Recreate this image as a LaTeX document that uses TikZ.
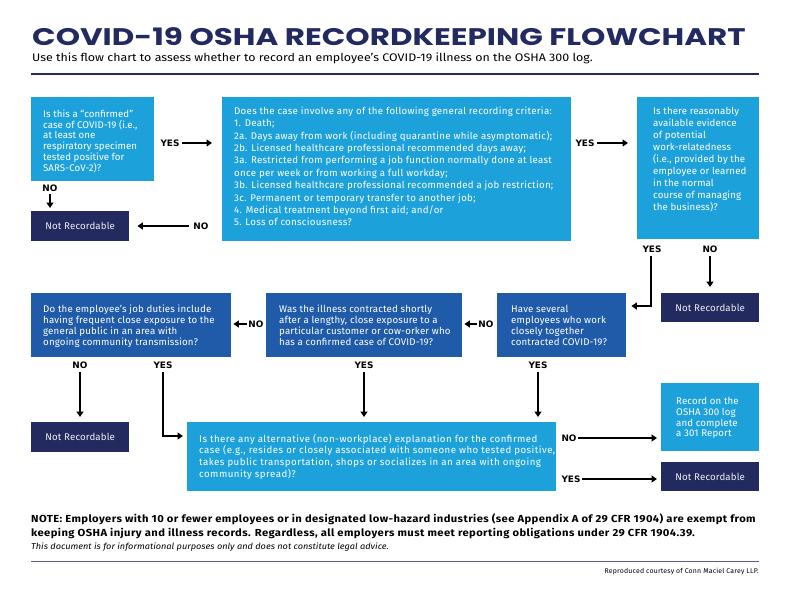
\documentclass[tikz,border=0pt]{standalone}
\usepackage{fontspec}
\setmainfont{Fira Sans}
\newfontfamily\titlefont[FakeStretch=1.29]{Poppins}
\newfontfamily\labfont{DejaVu Sans}
\usetikzlibrary{arrows.meta}
\definecolor{lblue}{RGB}{29,161,219}
\definecolor{mblue}{RGB}{31,91,168}
\definecolor{navy}{RGB}{35,42,96}
\definecolor{rulegray}{RGB}{90,94,140}
\newcommand\bfnt[3]{\fontsize{#1}{#2}\selectfont\addfontfeatures{LetterSpace=#3}}
\tikzset{
  boxbase/.style={inner sep=0pt, anchor=north west, draw=none},
  lbox/.style={boxbase, fill=lblue},
  mbox/.style={boxbase, fill=mblue},
  nrbox/.style={boxbase, fill=navy, text=white!92!navy, font={\bfnt{9.7}{11}{1.5}}},
  btxt/.style={anchor=north west, inner sep=0pt, align=left, text=white},
  lab/.style={inner sep=0pt, font=\labfont\bfseries\fontsize{8.9}{10}\selectfont},
  arr/.style={line width=1.4pt, -{Triangle[length=5.5pt,width=7pt]}},
  conn/.style={line width=1.4pt}
}
\begin{document}
\begin{tikzpicture}[x=1pt,y=-1pt]
\useasboundingbox (0,0) rectangle (792,590);
\fill[white] (0,0) rectangle (792,590);

% title
\node[anchor=west, inner sep=0pt, text=navy, font=\titlefont\bfseries\fontsize{24}{26}\selectfont] (title) at (32,36.5) {COVID-19 OSHA RECORDKEEPING FLOWCHART};
\node[anchor=west, inner sep=0pt, font={\fontsize{11}{12}\selectfont\addfontfeatures{FakeStretch=1.13}}] (sub) at (32,58.5) {Use this flow chart to assess whether to record an employee’s COVID-19 illness on the OSHA 300 log.};
\draw[navy, line width=2.2pt] (31,74) coordinate (r1a) -- (759,74) coordinate (r1b);

% row 1
\node[lbox, minimum width=123pt, minimum height=84pt] (q1) at (31,97) {};
\node[btxt, font={\bfnt{9.7}{10.8}{0.6}}] (q1t) at (43,109.5) {Is this a “confirmed”\\case of COVID-19 (i.e.,\\at least one\\respiratory specimen\\tested positive for\\SARS-CoV-2)?};

\node[lbox, minimum width=349pt, minimum height=144pt] (q2) at (222,97) {};
\node[btxt, font={\bfnt{9.7}{12.35}{3}}] (q2t) at (234,106.8) {Does the case involve any of the following general recording criteria:\\1. Death;\\2a. Days away from work (including quarantine while asymptomatic);\\2b. Licensed healthcare professional recommended days away;\\3a. Restricted from performing a job function normally done at least\\once per week or from working a full workday;\\3b. Licensed healthcare professional recommended a job restriction;\\3c. Permanent or temporary transfer to another job;\\4. Medical treatment beyond first aid; and/or\\5. Loss of consciousness?};

\node[lbox, minimum width=122pt, minimum height=142pt] (q3) at (637,97) {};
\node[btxt, font={\bfnt{9.7}{12}{1.2}}] (q3t) at (653,106.8) {Is there reasonably\\available evidence\\of potential\\work-relatedness\\(i.e., provided by the\\employee or learned\\in the normal\\course of managing\\the business)?};

\node[nrbox, minimum width=98pt, minimum height=30pt] (nr1) at (31,211) {Not Recordable};
\node[nrbox, minimum width=98pt, minimum height=29pt] (nr2) at (661,293) {Not Recordable};

% row 2
\node[mbox, minimum width=200pt, minimum height=64pt] (qa) at (31,293) {};
\node[btxt, font={\bfnt{9.7}{11}{1.7}}] (qat) at (43,304.8) {Do the employee’s job duties include\\having frequent close exposure to the\\general public in an area with\\ongoing community transmission?};

\node[mbox, minimum width=196pt, minimum height=64pt] (qb) at (266,293) {};
\node[btxt, font={\bfnt{9.7}{11}{1.7}}] (qbt) at (279,304.8) {Was the illness contracted shortly\\after a lengthy, close exposure to a\\particular customer or cow-orker who\\has a confirmed case of COVID-19?};

\node[mbox, minimum width=129pt, minimum height=64pt] (qc) at (497,293) {};
\node[btxt, font={\bfnt{9.7}{11}{1.7}}] (qct) at (511,304.8) {Have several\\employees who work\\closely together\\contracted COVID-19?};

% row 3
\node[nrbox, minimum width=98pt, minimum height=30pt] (nr3) at (31,422) {Not Recordable};
\node[lbox, minimum width=369pt, minimum height=69pt] (qd) at (187,422) {};
\node[btxt, font={\bfnt{9.7}{11.7}{4.8}}] (qdt) at (199,433.8) {Is there any alternative (non-workplace) explanation for the confirmed\\case (e.g., resides or closely associated with someone who tested positive,\\takes public transportation, shops or socializes in an area with ongoing\\community spread)?};

\node[lbox, minimum width=98pt, minimum height=68pt] (rec) at (661,383) {};
\node[btxt, font={\bfnt{9.7}{10.9}{1.2}}] (rect) at (676,396.8) {Record on the\\OSHA 300 log\\and complete\\a 301 Report};
\node[nrbox, minimum width=98pt, minimum height=29pt] (nr4) at (661,462) {Not Recordable};

% labels
\node[lab] (yes1) at (170,143) {YES};
\node[lab] (no1) at (50,188.5) {NO};
\node[lab] (no2) at (201,226) {NO};
\node[lab] (yes2) at (585,143) {YES};
\node[lab] (yes3) at (652,249) {YES};
\node[lab] (no3) at (710,249) {NO};
\node[lab] (noab) at (256,324) {NO};
\node[lab] (nobc) at (486,324) {NO};
\node[lab] (no4) at (80,365) {NO};
\node[lab] (yes4) at (163,365) {YES};
\node[lab] (yes5) at (364,365) {YES};
\node[lab] (yes6) at (538,365) {YES};
\node[lab] (no5) at (569,438) {NO};
\node[lab] (yes7) at (571,479) {YES};

% connectors
\draw[arr, shorten <=2pt, shorten >=10pt] (yes1.east) -- (yes1.east -| q2.west);
\draw[arr, shorten <=2pt, shorten >=3pt] (no1.south) -- (no1.south |- nr1.north);
\draw[arr, shorten <=4pt, shorten >=8pt] (no2.west) -- (no2.west -| nr1.east);
\draw[arr, shorten <=2pt, shorten >=9pt] (yes2.east) -- (yes2.east -| q3.west);
\coordinate (t1) at (651,306);
\draw[arr, shorten >=5pt] ([yshift=-3pt]yes3.south -| t1) -- (t1) -- (t1 -| qc.east);
\draw[arr, shorten <=3pt, shorten >=6pt] (no3.south) -- (no3.south |- nr2.north);
\draw[arr, shorten <=1.5pt, shorten >=2pt] (noab.west) -- (noab.west -| qa.east);
\draw[arr, shorten <=1.5pt, shorten >=2pt] (nobc.west) -- (nobc.west -| qb.east);
\draw[arr, shorten <=3pt, shorten >=5pt] (no4.south) -- (no4.south |- nr3.north);
\coordinate (t2) at (163,436);
\draw[arr, shorten >=4pt] ([yshift=-3pt]yes4.south) -- (t2) -- (t2 -| qd.west);
\draw[arr, shorten <=3pt, shorten >=5pt] (yes5.south) -- (yes5.south |- qd.north);
\draw[arr, shorten <=3pt, shorten >=5pt] (yes6.south) -- (yes6.south |- qd.north);
\draw[arr, shorten <=1.5pt, shorten >=4pt] (no5.east) -- (no5.east -| rec.west);
\draw[arr, shorten <=1.5pt, shorten >=4pt] (yes7.east) -- (yes7.east -| nr4.west);

% footer
\node[anchor=north west, inner sep=0pt, align=left, font={\bfseries\fontsize{10.2}{14}\selectfont\addfontfeatures{FakeStretch=1.1,LetterSpace=4}}] (note) at (31,514) {NOTE: Employers with 10 or fewer employees or in designated low-hazard industries (see Appendix A of 29 CFR 1904) are exempt from\\keeping OSHA injury and illness records. Regardless, all employers must meet reporting obligations under 29 CFR 1904.39.};
\node[anchor=west, inner sep=0pt, font={\itshape\fontsize{8.5}{10}\selectfont\addfontfeatures{FakeStretch=1.08}}] (disc) at (31,547) {This document is for informational purposes only and does not constitute legal advice.};
\draw[rulegray, line width=1pt] (31,561) coordinate (r2a) -- (759,561) coordinate (r2b);
\node[anchor=east, inner sep=0pt, font={\fontsize{6.9}{8}\selectfont\addfontfeatures{LetterSpace=3}}] (repro) at (759,572) {Reproduced courtesy of Conn Maciel Carey LLP.};
\end{tikzpicture}
\end{document}
